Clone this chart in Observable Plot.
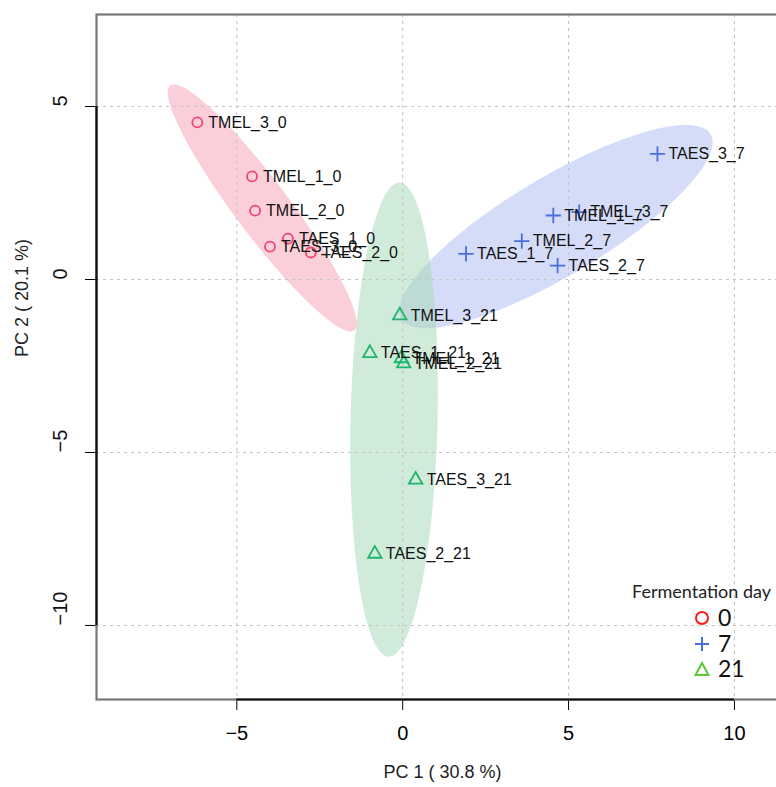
<!DOCTYPE html>
<html>
<head>
<meta charset="utf-8">
<script src="https://cdn.jsdelivr.net/npm/d3@7"></script>
<script src="https://cdn.jsdelivr.net/npm/@observablehq/plot@0.6"></script>
<style>
  html, body { margin: 0; padding: 0; background: #fff; overflow: hidden; }
  #wrap { position: relative; width: 776px; height: 787px; overflow: hidden; }
  #chart svg { max-width: none !important; width: 800px !important; height: 787px !important; }
  #legend { position: absolute; left: 632px; top: 580px; font-family: Lato, "Open Sans", sans-serif; color: #222; }
  #legend .title { font-size: 18px; white-space: nowrap; margin-bottom: 4px; }
  #legend .row { position: relative; height: 25.5px; margin-left: 62px; }
  #legend svg { position: absolute; left: 0; top: 4px; }
  #legend .lab { position: absolute; left: 24px; top: -3px; font-size: 23px; color: #111; }
</style>
</head>
<body>
<div id="wrap">
  <div id="chart"></div>
  <div id="legend"></div>
</div>
<script>
// ---- data ----
const sampleNames = [
  "TMEL_1_0","TMEL_2_0","TMEL_3_0","TAES_1_0","TAES_2_0","TAES_3_0",
  "TMEL_1_7","TMEL_2_7","TMEL_3_7","TAES_1_7","TAES_2_7","TAES_3_7",
  "TMEL_1_21","TMEL_2_21","TMEL_3_21","TAES_1_21","TAES_2_21","TAES_3_21"
];
const pc1Values = [
  -4.54, -4.45, -6.19, -3.46, -2.77, -4.00,
   4.54,  3.59,  5.32,  1.91,  4.67,  7.68,
  -0.04,  0.03, -0.09, -0.99, -0.84,  0.39
];
const pc2Values = [
   2.98,  1.99,  4.54,  1.18,  0.78,  0.95,
   1.85,  1.11,  1.95,  0.74,  0.40,  3.63,
  -2.28, -2.43, -1.04, -2.13, -7.93, -5.79
];
const fermentationDay = [
  "0","0","0","0","0","0",
  "7","7","7","7","7","7",
  "21","21","21","21","21","21"
];
const dayLevels = ["0", "7", "21"];
// 95% confidence-ellipse parameters per group
const ellipseCentreX = [-4.235, 4.62, -0.26];
const ellipseCentreY = [2.07, 1.53, -4.05];
const ellipseSdX = [1.163, 1.93, 0.54];
const ellipseSdY = [1.459, 1.20, 2.80];
const ellipseCorr = [-0.935, 0.83, 0.12];

const dayColors = ["#EE4470", "#4A6EE0", "#1FB56C"];
const ellipseFill = ["#F7A3B6", "#AEBBF0", "#A6D9B8"];
const daySymbols = ["circle", "plus", "triangle"];
const legendColors = ["#FF1A1A", "#4A6ED8", "#5CC53A"];
const xTicks = [-5, 0, 5, 10];
const yTicks = [-10, -5, 0, 5];
const xDomain = [-9.23, 11.63];
const yDomain = [-12.14, 7.66];
const xTitle = "PC 1 ( 30.8 %)";
const yTitle = "PC 2 ( 20.1 %)";
const legendTitle = "Fermentation day";

// ---- table ----
const samples = sampleNames.map((name, i) => ({
  name, pc1: pc1Values[i], pc2: pc2Values[i], day: fermentationDay[i]
}));

// ellipse outline (ellipse-package parametrisation, chi-square 95% level)
function ellipse(i, level = 0.95, n = 120) {
  const t = Math.sqrt(-2 * Math.log(1 - level));
  const dd = Math.acos(ellipseCorr[i]);
  return d3.range(n).map(k => {
    const a = 2 * Math.PI * k / n;
    return {
      x: ellipseCentreX[i] + t * ellipseSdX[i] * Math.cos(a + dd / 2),
      y: ellipseCentreY[i] + t * ellipseSdY[i] * Math.cos(a - dd / 2),
      day: dayLevels[i]
    };
  });
}
const ellipses = dayLevels.map((lv, i) => ellipse(i));

const fmt = d => d < 0 ? "\u2212" + Math.abs(d) : String(d);

const chart = Plot.plot({
  width: 800,
  height: 787,
  marginLeft: 96,
  marginRight: 12,
  marginTop: 14,
  marginBottom: 88,
  style: {fontFamily: "'Liberation Sans', Arial, sans-serif", fontSize: "20px", background: "white", overflow: "visible", maxWidth: "none"},
  x: {domain: xDomain, ticks: xTicks, tickSize: 11, tickPadding: 15, tickFormat: fmt, label: null},
  y: {domain: yDomain, ticks: yTicks, tickSize: 11, tickFormat: () => "", label: null},
  color: {domain: dayLevels, range: dayColors},
  symbol: {domain: dayLevels, range: daySymbols},
  marks: [
    // ellipses
    ...ellipses.map((e, i) => Plot.line(e, {x: "x", y: "y", curve: "linear-closed", fill: ellipseFill[i], fillOpacity: 0.52, stroke: null})),
    // grid
    Plot.ruleX(xTicks, {stroke: "#c4c4c4", strokeDasharray: "3,4", strokeWidth: 1.1}),
    Plot.ruleY(yTicks, {stroke: "#c4c4c4", strokeDasharray: "3,4", strokeWidth: 1.1}),
    // frame box
    Plot.frame({stroke: "#777", strokeWidth: 2.2}),
    // axis lines spanning first to last tick
    Plot.ruleX([xDomain[0]], {y1: d3.min(yTicks), y2: d3.max(yTicks), stroke: "#111", strokeWidth: 2.2}),
    Plot.ruleY([yDomain[0]], {x1: d3.min(xTicks), x2: d3.max(xTicks), stroke: "#111", strokeWidth: 2.2}),
    // y tick labels, rotated like R
    Plot.text(yTicks, {y: d => d, frameAnchor: "left", dx: -36, rotate: -90, text: fmt, fontSize: 20, fill: "#111"}),
    // axis titles
    Plot.text([xTitle], {frameAnchor: "bottom", dy: 78, text: d => d, fontSize: 18, fill: "#222"}),
    Plot.text([yTitle], {frameAnchor: "left", dx: -74, rotate: -90, text: d => d, fontSize: 18, fill: "#222"}),
    // points
    Plot.dot(samples, {x: "pc1", y: "pc2", stroke: "day", symbol: "day", r: 5, strokeWidth: 1.8}),
    // labels
    Plot.text(samples, {x: "pc1", y: "pc2", text: "name", dx: 11, textAnchor: "start", fontSize: 16, fill: "#111"})
  ]
});
document.getElementById("chart").appendChild(chart);

// legend
const leg = document.getElementById("legend");
const t = document.createElement("div");
t.className = "title";
t.textContent = legendTitle;
leg.appendChild(t);
const shapes = [
  c => `<circle cx="8" cy="8" r="6" fill="none" stroke="${c}" stroke-width="2"/>`,
  c => `<path d="M8 1V15M1 8H15" stroke="${c}" stroke-width="2" fill="none"/>`,
  c => `<path d="M8 2L14.5 14H1.5Z" stroke="${c}" stroke-width="2" fill="none"/>`
];
dayLevels.forEach((lv, i) => {
  const row = document.createElement("div");
  row.className = "row";
  row.innerHTML = `<svg width="16" height="16">${shapes[i](legendColors[i])}</svg><span class="lab">${lv}</span>`;
  leg.appendChild(row);
});
</script>
</body>
</html>
